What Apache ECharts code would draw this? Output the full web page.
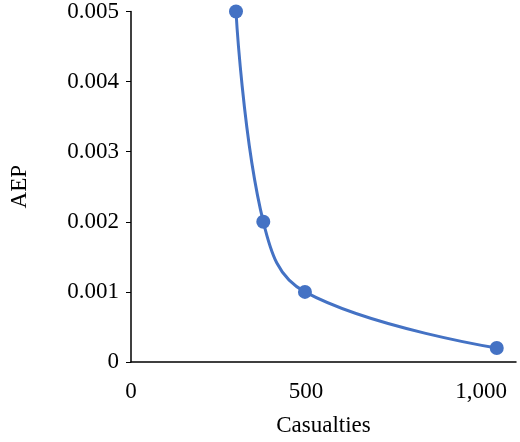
<!DOCTYPE html>
<html><head><meta charset="utf-8">
<script src="https://cdn.jsdelivr.net/npm/echarts@6/dist/echarts.min.js"></script>
<style>body{margin:0}#c{width:520px;height:442px}</style></head>
<body><div id="c"></div>
<script>
const casualties = [300, 378, 497, 1045];
const aep = [0.005, 0.002, 0.001, 0.0002];
const xTicks = [0, 500, 1000];
const yTicks = [0, 0.001, 0.002, 0.003, 0.004, 0.005];
const font = {fontFamily: 'Liberation Serif', fontSize: 23, color: '#000'};
const chart = echarts.init(document.getElementById('c'));
chart.setOption({
  animation: false,
  grid: {left: 120, right: 4, top: 11, bottom: 75},
  xAxis: {type: 'value', min: 0, max: 1100, interval: 500,
    name: 'Casualties', nameLocation: 'middle', nameGap: 52, nameTextStyle: font,
    axisLine: {show: true, lineStyle: {color: '#000', width: 1.5}}, axisTick: {show: false},
    splitLine: {show: false},
    axisLabel: Object.assign({}, font, {margin: 18, formatter: v => xTicks.includes(v) ? v.toLocaleString('en-US') : ''})},
  yAxis: {type: 'value', min: 0, max: 0.005, interval: 0.001,
    name: 'AEP', nameLocation: 'middle', nameGap: 100, nameTextStyle: font,
    axisLine: {show: true, lineStyle: {color: '#000', width: 1.5}}, axisTick: {show: true, length: 5, inside: false, lineStyle:{color:'#000'}},
    splitLine: {show: false},
    axisLabel: Object.assign({}, font, {margin: 12, formatter: v => v === 0 ? '0' : v.toFixed(3)})},
  series: [{type: 'line', smooth: 0.4, data: casualties.map((c, i) => [c, aep[i]]),
    symbol: 'circle', symbolSize: 14,
    itemStyle: {color: '#4472C4'}, lineStyle: {color: '#4472C4', width: 3}}]
});
</script></body></html>
